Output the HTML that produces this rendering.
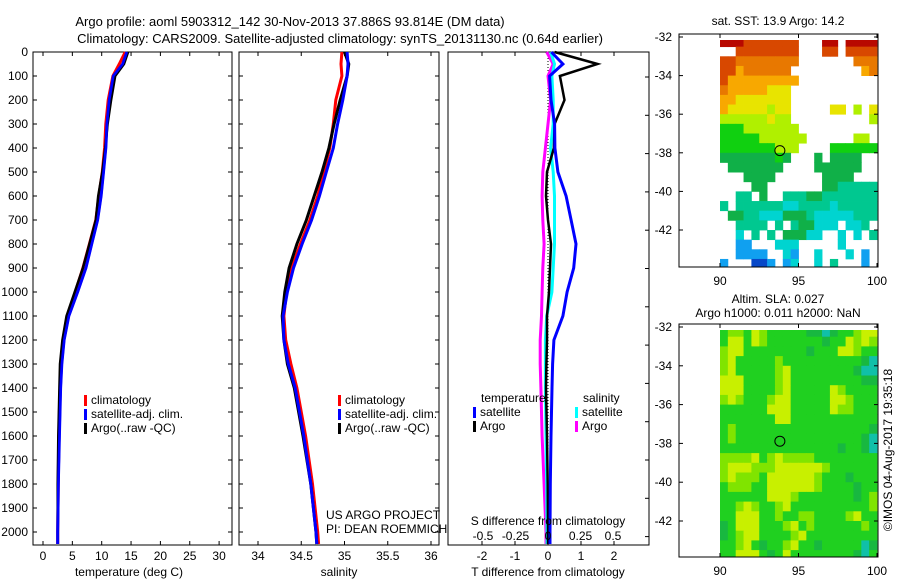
<!DOCTYPE html>
<html><head><meta charset="utf-8">
<style>
html,body{margin:0;padding:0;background:#fff;}
svg{display:block;font-family:"Liberation Sans",sans-serif;font-size:12px;}
</style></head>
<body>
<svg id="fig" width="900" height="580" viewBox="0 0 900 580" xmlns="http://www.w3.org/2000/svg">
<rect width="900" height="580" fill="#fff"/>
<text x="290" y="26" text-anchor="middle" font-size="13">Argo profile: aoml 5903312_142 30-Nov-2013 37.886S 93.814E (DM data)</text>
<text x="340" y="43" text-anchor="middle" font-size="13">Climatology: CARS2009. Satellite-adjusted climatology: synTS_20131130.nc (0.64d earlier)</text>
<g id="g"></g>
</svg>
<script>
// ---- profile data ----
const depths   = [0, 50, 100, 200, 300, 400, 500, 600, 700, 800, 900, 1000, 1100, 1200, 1300, 1400, 1600, 1800, 2000, 2050];
const tempClim = [14.0, 13.0, 11.9, 11.1, 10.7, 10.5, 10.1, 9.5, 9.0, 7.9, 6.8, 5.5, 4.1, 3.4, 3.0, 2.9, 2.7, 2.6, 2.5, 2.5];
const tempSat  = [14.3, 13.6, 12.0, 11.3, 10.9, 10.7, 10.3, 9.9, 9.3, 8.3, 7.3, 5.9, 4.4, 3.6, 3.2, 3.0, 2.8, 2.6, 2.5, 2.5];
const tempArgo = [14.5, 13.8, 12.3, 11.6, 11.0, 10.6, 10.1, 9.4, 9.0, 7.9, 6.8, 5.4, 4.0, 3.3, 2.9, 2.8, 2.6, 2.5, 2.5, 2.5];
const salClim  = [34.97, 34.96, 34.97, 34.90, 34.87, 34.83, 34.76, 34.69, 34.60, 34.49, 34.39, 34.33, 34.30, 34.32, 34.38, 34.45, 34.55, 34.63, 34.69, 34.70];
const salSat   = [35.03, 35.04, 35.03, 34.98, 34.92, 34.87, 34.79, 34.71, 34.62, 34.51, 34.41, 34.34, 34.29, 34.30, 34.35, 34.43, 34.53, 34.61, 34.67, 34.68];
const salArgo  = [35.00, 35.05, 35.03, 34.95, 34.88, 34.82, 34.74, 34.65, 34.56, 34.45, 34.36, 34.31, 34.28, 34.30, 34.34, 34.42, 34.52, 34.61, 34.67, 34.68];
const tdiffSat  = [0.1, 0.45, 0.05, 0.09, 0.2, 0.21, 0.3, 0.55, 0.7, 0.85, 0.78, 0.58, 0.45, 0.18, 0.14, 0.12, 0.09, 0.07, 0.06, 0.06];
const tdiffArgo = [0.2, 1.5, 0.36, 0.5, 0.2, 0.18, -0.03, -0.06, 0.0, 0.09, 0.06, 0.03, -0.03, -0.03, -0.05, -0.06, -0.03, -0.01, 0.0, 0.0];
const sdiffSat  = [0.02, 0.05, 0.03, 0.04, 0.04, 0.02, 0.04, 0.05, 0.05, 0.05, 0.04, 0.03, -0.01, -0.02, -0.02, -0.02, -0.015, -0.01, -0.008, -0.008];
const sdiffArgo = [-0.01, 0.04, 0.0, 0.02, 0.0, -0.02, -0.04, -0.045, -0.04, -0.03, -0.04, -0.045, -0.05, -0.06, -0.06, -0.055, -0.045, -0.03, -0.015, -0.015];
const depthTicks = [0,100,200,300,400,500,600,700,800,900,1000,1100,1200,1300,1400,1500,1600,1700,1800,1900,2000];
const tempTicks = [0,5,10,15,20,25,30];
const salTicks = [34,34.5,35,35.5,36];
const tdTicks = [-2,-1,0,1,2];
const sdTicks = [-0.5,-0.25,0,0.25,0.5];
const salTickLabels = ["34","34.5","35","35.5","36"];
const sdTickLabels = ["-0.5","-0.25","0","0.25","0.5"];
// ---- map data (0.5 deg cells, lon 90..100, lat -32..-44) ----
const sstRows = [
"aaabbbbbbb...aa.aaaa",
"..bbbbbbbb...bb.bbbb",
"bbcccccccc.......ccc",
"bbdcccccc.........dc",
"bddddddddd..........",
"cdddddeee...........",
"ddeeeeeee...........",
"deeeeefee.....ee.f.e",
"ffffffeff..........f",
"gggfffffff..........",
"gggggffffff......ff.",
"gggggggfff....gggggg",
"hhhhhhhgh...h.hhhh..",
".hhhhhhh....hhhhhh..",
"...hhhh......hhhh...",
"....hh.......hhiiiii",
"..ii.h..iiihhiiiiiii",
"i.iiiiiijjiiiijiiiii",
".hhiijjjhhhijjjjjiii",
"..iiii.i.ihhjjj.jji.",
"..j.i.i.hhhjj..j.j.i",
"..kk...jjj.....j....",
"..kkkk..jk..j...j.k.",
"k...llk.kj..j.i...k."];
const sstColors = {a:"#b80800",b:"#d84800",c:"#e87800",d:"#f8a800",e:"#e8e400",f:"#b0f000",g:"#10d010",h:"#10b048",i:"#00c890",j:"#00d4d0",k:"#10a0f0",l:"#0848c8"};
const slaRows = [
"gllgylgggggddtdgglyy","gyygylgggggggdggylyl","lyyggggggggdgggyylgg","lyggggglggggggggggdt",
"lyggggglyggggggggdtt","yyygggglygggggggggdd","yyygggglygggggylgggg","lylggglyygggggyylggg",
"ggggggyyygggggyllggg","gggggggyyggggggggggg","glgggggggggggggggggd","glggggggggggggggggdt",
"gggggggggggggggdggdt","llllyglyllllgggggggg","lyyylllyyyyyylgggggg","lylllgyyyyyylgggdggg",
"glllggyyyyyylggggdgg","ggggggyyylgggggggdgl","gglylgglyggggggggggl","ggyyygglggllgggglygg",
"dgyyyggglyglgggggglg","dglyygggglyggggggggg","gglygdgglyggdgggggtd","ggyyygdgyggggggggdtg"];
const slaColors = {g:"#20d020",y:"#c8f000",l:"#80e400",d:"#18b840",t:"#10c0a8"};
const mapLatTicks = [-32,-34,-36,-38,-40,-42];
const mapLonTicks = [90,95,100];
const argoLon = 93.814, argoLat = -37.886;

const NS="http://www.w3.org/2000/svg";
const G=document.getElementById('g');
function el(tag,attrs,parent){const e=document.createElementNS(NS,tag);for(const k in attrs)e.setAttribute(k,attrs[k]);(parent||G).appendChild(e);return e;}
function txt(x,y,s,anchor,parent){const t=el('text',{x:x,y:y,'text-anchor':anchor||'start'},parent);t.textContent=s;return t;}

const Y0=52, YTOP=52, YBOT=545;
const yD=d=>Y0+d*0.24;
const xT=v=>43+v*5.87;
const xS=v=>258+(v-34)*86.5;
const xTD=v=>548+v*33;
const xSD=v=>548+v*130;

function frame(x0,x1,name){
  const r=el('rect',{x:x0,y:YTOP,width:x1-x0,height:YBOT-YTOP,fill:'none',stroke:'#000','stroke-width':1});
  
  
  depthTicks.forEach(d=>{
    el('line',{x1:x0,x2:x0+4,y1:yD(d),y2:yD(d),stroke:'#000'});
    el('line',{x1:x1,x2:x1-4,y1:yD(d),y2:yD(d),stroke:'#000'});
  });
}
function line(xs,xf,color,w,name){
  const pts=depths.map((d,i)=>xf(xs[i]).toFixed(1)+','+yD(d).toFixed(1)).join(' ');
  const p=el('polyline',{points:pts,fill:'none',stroke:color,'stroke-width':w});
  
  
}
function legendItem(x,y,color,label,name){
  const g=el('g',{});
  
  
  el('rect',{x:x,y:y-9,width:3,height:11,fill:color},g);
  txt(x+7,y,label,'start',g);
}

// Panel 1: temperature
frame(33,232,'temperature-panel');
depthTicks.forEach(d=>{const t=txt(28,yD(d)+4,String(d),'end');});
tempTicks.forEach(v=>{el('line',{x1:xT(v),x2:xT(v),y1:YTOP,y2:YTOP+4,stroke:'#000'});el('line',{x1:xT(v),x2:xT(v),y1:YBOT,y2:YBOT-4,stroke:'#000'});txt(xT(v),560,String(v),'middle');});
line(tempClim,xT,'#f00',3,'temp-climatology-line');
line(tempSat,xT,'#00f',3,'temp-satellite-line');
line(tempArgo,xT,'#000',2.5,'temp-argo-line');
line(tempSat,xT,'#00f',2.5,'temp-satellite-line-top');
legendItem(84,404,'#f00','climatology','legend-climatology');
legendItem(84,418,'#00f','satellite-adj. clim.','legend-satellite');
legendItem(84,432,'#000','Argo(..raw -QC)','legend-argo');
{const t=txt(129,576,'temperature (deg C)','middle');}

// Panel 2: salinity
frame(239,439,'salinity-panel');
salTicks.forEach((v,i)=>{el('line',{x1:xS(v),x2:xS(v),y1:YTOP,y2:YTOP+4,stroke:'#000'});el('line',{x1:xS(v),x2:xS(v),y1:YBOT,y2:YBOT-4,stroke:'#000'});txt(xS(v),560,salTickLabels[i],'middle');});
line(salClim,xS,'#f00',3,'sal-climatology-line');
line(salArgo,xS,'#000',3,'sal-argo-line');
line(salSat,xS,'#00f',3,'sal-satellite-line');
legendItem(338,404,'#f00','climatology','legend-climatology-2');
legendItem(338,418,'#00f','satellite-adj. clim.','legend-satellite-2');
legendItem(338,432,'#000','Argo(..raw -QC)','legend-argo-2');
txt(326,519,'US ARGO PROJECT','start');
txt(326,533,'PI: DEAN ROEMMICH','start');
{const t=txt(339,576,'salinity','middle');}

// Panel 3: differences
{
 const r=el('rect',{x:448,y:YTOP,width:201,height:YBOT-YTOP,fill:'none',stroke:'#000'});
 
 
 for(let y=77;y<YBOT;y+=38.3){el('line',{x1:649,x2:645,y1:y,y2:y,stroke:'#000'});}
 el('line',{x1:xTD(0),x2:xTD(0),y1:YTOP,y2:YBOT,stroke:'#000','stroke-dasharray':'1,2'});
 tdTicks.forEach(v=>{el('line',{x1:xTD(v),x2:xTD(v),y1:YTOP,y2:YTOP+4,stroke:'#000'});el('line',{x1:xTD(v),x2:xTD(v),y1:YBOT,y2:YBOT-4,stroke:'#000'});txt(xTD(v),560,String(v),'middle');});
 line(sdiffArgo,xSD,'#f0f',3,'sdiff-argo-line');
 line(sdiffSat,xSD,'#0ff',3,'sdiff-satellite-line');
 line(tdiffArgo,xTD,'#000',2.5,'tdiff-argo-line');
 line(tdiffSat,xTD,'#00f',3,'tdiff-satellite-line');
 txt(481,402,'temperature','start');
 txt(583,402,'salinity','start');
 legendItem(473,416,'#00f','satellite','legend-t-satellite');
 legendItem(473,430,'#000','Argo','legend-t-argo');
 legendItem(575,416,'#0ff','satellite','legend-s-satellite');
 legendItem(575,430,'#f0f','Argo','legend-s-argo');
 txt(548,525,'S difference from climatology','middle');
 sdTicks.forEach((v,i)=>txt(xSD(v),540,sdTickLabels[i],'middle'));
 const t=txt(548,576,'T difference from climatology','middle');
}

// Maps
function map(top,bottom,lat32y,lat42y,rows,colors,name,leftFill){
  const L=679,R=878;
  const xL=lon=>720+(lon-90)*15.7;
  const yL=lat=>lat32y+(-32-lat)*(lat42y-lat32y)/10;
  const g=el('g',{});
  
  
  const latTop=-32-(lat32y-top)*10/(lat42y-lat32y);
  rows.forEach((row,ri)=>{
    for(let ci=0;ci<row.length;ci++){
      const c=row[ci]; if(c==='.')continue;
      const la0=Math.min(latTop,-32-ri*0.5+ (ri===0?0.2:0)), la1=-32-(ri+1)*0.5;
      const y0=Math.max(top,yL(ri===0?latTop:-32-ri*0.5)), y1=Math.min(bottom,yL(ri===rows.length-1?-44:la1));
      const x0=xL(90+ci*0.5), x1=Math.min(R,xL(90+(ci+1)*0.5));
      el('rect',{x:x0,y:y0,width:x1-x0+0.4,height:y1-y0+0.4,fill:colors[c]},g);
    }
  });
  el('rect',{x:L,y:top,width:R-L,height:bottom-top,fill:'none',stroke:'#000'},g);
  mapLatTicks.forEach(v=>{el('line',{x1:L,x2:L+4,y1:yL(v),y2:yL(v),stroke:'#000'},g);el('line',{x1:R,x2:R-4,y1:yL(v),y2:yL(v),stroke:'#000'},g);txt(672,yL(v)+4,String(v),'end',g);});
  mapLonTicks.forEach(v=>{el('line',{x1:xL(v),x2:xL(v),y1:top,y2:top+4,stroke:'#000'},g);el('line',{x1:xL(v),x2:xL(v),y1:bottom,y2:bottom-4,stroke:'#000'},g);txt(xL(v),bottom+18,String(v),'middle',g);});
  const c=el('circle',{cx:xL(argoLon),cy:yL(argoLat),r:5,fill:'none',stroke:'#000','stroke-width':1},g);
  
  
}
map(34,267,37,230,sstRows,sstColors,'sst-map');
txt(778,25,'sat. SST: 13.9 Argo: 14.2','middle');
map(324,557,327,521,slaRows,slaColors,'sla-map');
txt(778,303,'Altim. SLA: 0.027','middle');
txt(778,317,'Argo h1000: 0.011 h2000: NaN','middle');
{const t=el('text',{x:0,y:0,'text-anchor':'middle',transform:'translate(892,450) rotate(-90)'});t.textContent='©IMOS 04-Aug-2017 19:35:18';}
</script>
</body></html>
